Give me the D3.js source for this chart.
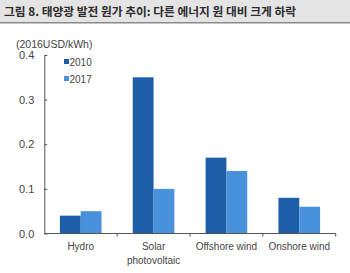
<!DOCTYPE html>
<html>
<head>
<meta charset="utf-8">
<script src="https://cdn.jsdelivr.net/npm/d3@7"></script>
<style>
  html, body { margin: 0; padding: 0; background: #fff; }
  svg { display: block; }
</style>
</head>
<body>
<svg id="chart" width="350" height="273"></svg>
<script>
// Levelized cost of electricity by source (2016 USD/kWh)
const categories = ["Hydro", "Solar\nphotovoltaic", "Offshore wind", "Onshore wind"];
const seriesNames = ["2010", "2017"];
const values2010 = [0.04, 0.35, 0.17, 0.08];
const values2017 = [0.05, 0.10, 0.14, 0.06];
const yTicks = [0.0, 0.1, 0.2, 0.3, 0.4];
const titleText = "그림 8. 태양광 발전 원가 추이: 다른 에너지 원 대비 크게 하락";
const unitText = "(2016USD/kWh)";

const colors = ["#1c5ea8", "#4a91dc"];
const seriesValues = [values2010, values2017];

const svg = d3.select("#chart");
const W = 350, H = 273;

// Title bar
svg.append("rect").attr("x", 0).attr("y", 0).attr("width", W).attr("height", 22)
  .attr("fill", "#e4e4e4");
svg.append("rect").attr("x", 0).attr("y", 22).attr("width", W).attr("height", 1.5)
  .attr("fill", "#8a8a8a");
svg.append("text")
  .attr("x", 4).attr("y", 16)
  .attr("font-family", "'Noto Sans CJK KR', sans-serif")
  .attr("font-weight", "bold")
  .attr("font-size", 11.5)
  .attr("textLength", 292)
  .attr("lengthAdjust", "spacingAndGlyphs")
  .attr("fill", "#2b2b2b")
  .text(titleText);

const margin = { left: 44.3, right: 14.3, top: 55, bottom: 39.5 };
const plotW = W - margin.left - margin.right;
const plotH = H - margin.top - margin.bottom;

const g = svg.append("g").attr("transform", `translate(${margin.left},${margin.top})`);

const x = d3.scaleBand().domain(categories).range([0, plotW]).paddingInner(0).paddingOuter(0);
const xInner = d3.scaleBand().domain(seriesNames).range([0, x.bandwidth()]).paddingOuter(0.75).paddingInner(0);
const y = d3.scaleLinear().domain([0, 0.4]).range([plotH, 0]);

// Bars
seriesNames.forEach((s, si) => {
  g.append("g").selectAll("rect")
    .data(categories.map((c, i) => ({ c, v: seriesValues[si][i] })))
    .join("rect")
    .attr("x", d => x(d.c) + xInner(s))
    .attr("y", d => y(d.v))
    .attr("width", xInner.bandwidth())
    .attr("height", d => plotH - y(d.v))
    .attr("fill", colors[si]);
});

// Y axis
const yAxis = d3.axisLeft(y).tickValues(yTicks).tickFormat(d3.format(".1f"))
  .tickSizeInner(-3).tickSizeOuter(0).tickPadding(10);
const yg = g.append("g").call(yAxis);
yg.select(".domain").attr("stroke", "#555");
yg.selectAll(".tick line").attr("stroke", "#555");
yg.selectAll(".tick text")
  .attr("font-family", "'Liberation Sans', Arial, sans-serif")
  .attr("font-size", 11).attr("fill", "#444");

// X axis: ticks on category boundaries
const boundaries = d3.range(categories.length + 1).map(i => i * x.step());
const xg = g.append("g").attr("transform", `translate(0,${plotH})`);
xg.append("line").attr("x1", 0).attr("x2", plotW).attr("y1", 0).attr("y2", 0)
  .attr("stroke", "#555");
xg.selectAll("line.tk").data(boundaries.slice(1)).join("line").attr("class", "tk")
  .attr("x1", d => d).attr("x2", d => d).attr("y1", 0).attr("y2", 3)
  .attr("stroke", "#555");
const labels = xg.selectAll("text.cat").data(categories).join("text").attr("class", "cat")
  .attr("x", d => x(d) + x.bandwidth() / 2)
  .attr("y", 16)
  .attr("text-anchor", "middle")
  .attr("font-family", "'Liberation Sans', Arial, sans-serif")
  .attr("font-size", 10)
  .attr("fill", "#444");
labels.each(function(d) {
  const lines = d.split("\n");
  d3.select(this).selectAll("tspan").data(lines).join("tspan")
    .attr("x", x(d) + x.bandwidth() / 2)
    .attr("dy", (l, i) => i === 0 ? 0 : 14)
    .text(l => l);
});

// Unit label
svg.append("text").attr("x", 16).attr("y", 48)
  .attr("font-family", "'Liberation Sans', Arial, sans-serif")
  .attr("font-size", 10.5).attr("fill", "#444")
  .text(unitText);

// Legend
const legend = svg.append("g").attr("transform", "translate(64,62)");
seriesNames.forEach((s, i) => {
  const row = legend.append("g").attr("transform", `translate(0,${i * 17})`);
  row.append("rect").attr("x", 0).attr("y", -3).attr("width", 5).attr("height", 5).attr("fill", colors[i]);
  row.append("text").attr("x", 5.5).attr("y", 3.8)
    .attr("font-family", "'Liberation Sans', Arial, sans-serif")
    .attr("font-size", 10).attr("fill", "#444").text(s);
});
</script>
</body>
</html>
